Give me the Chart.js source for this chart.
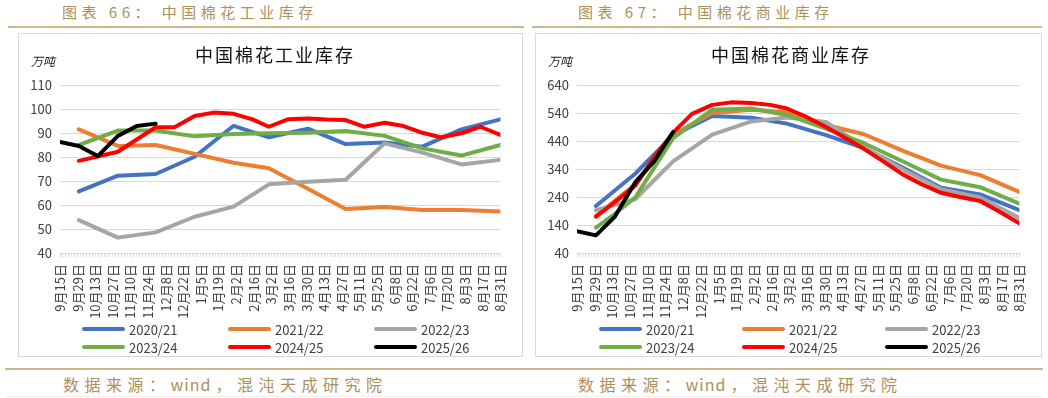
<!DOCTYPE html>
<html>
<head>
<meta charset="utf-8">
<script src="https://cdn.jsdelivr.net/npm/chart.js@4.4.1/dist/chart.umd.min.js"></script>
<style>
body { margin:0; width:1048px; height:398px; background:#fff; position:relative; overflow:hidden; font-family:"Noto Sans CJK SC", sans-serif; }
.fig-title { position:absolute; top:2px; font-size:15px; line-height:20px; color:#ad8f5b; letter-spacing:4.5px; white-space:nowrap; }
.rule { position:absolute; height:2px; background:#cdb88e; }
.box { position:absolute; top:33px; height:324px; border:1px solid #d9d9d9; box-sizing:border-box; }
.chart { position:absolute; top:33px; }
.ctitle { position:absolute; top:43px; font-size:18px; line-height:22px; letter-spacing:2px; color:#111; white-space:nowrap; transform:translateX(-50%); }
.unit { position:absolute; top:53px; font-size:12px; line-height:16px; color:#222; font-style:italic; }
.legend { position:absolute; top:320px; display:grid; grid-auto-rows:18px; }
.legend .item { display:flex; align-items:center; font-size:13px; color:#404040; }
.legend .swatch { width:43px; height:4px; border-radius:2px; margin-right:4px; }
.src { position:absolute; top:373px; font-size:16px; line-height:22px; color:#ad8f5b; letter-spacing:5.5px; white-space:nowrap; }
.src .lat { letter-spacing:1px; margin-right:4px; }
</style>
</head>
<body>

<div class="fig-title" style="left:62px">图表 66： 中国棉花工业库存</div>
<div class="fig-title" style="left:578px">图表 67： 中国棉花商业库存</div>
<div class="rule" style="left:8px;top:26px;width:516px"></div>
<div class="rule" style="left:532px;top:26px;width:510px"></div>

<div class="box" style="left:18px;width:505px"></div>
<div class="box" style="left:535px;width:507px"></div>

<canvas id="indChart" class="chart" style="left:18px" width="505" height="324"></canvas>
<canvas id="comChart" class="chart" style="left:535px" width="507" height="324"></canvas>

<div class="ctitle" style="left:275px">中国棉花工业库存</div>
<div class="ctitle" style="left:791px">中国棉花商业库存</div>
<div class="unit" style="left:31px">万吨</div>
<div class="unit" style="left:548px">万吨</div>

<div class="legend" id="indLegend" style="left:82px;grid-template-columns:146px 146px 146px"></div>
<div class="legend" id="comLegend" style="left:599px;grid-template-columns:143px 143px 143px"></div>

<div class="rule" style="left:5px;top:368px;width:1038px"></div>
<div class="src" style="left:63px">数据来源：<span class="lat">wind</span>，混沌天成研究院</div>
<div class="src" style="left:578px">数据来源：<span class="lat">wind</span>，混沌天成研究院</div>
<div class="rule" style="left:5px;top:396px;width:1038px;height:1px;background:#eeeeee"></div>

<script>
// season runs 9/15 -> 8/31, points are mid-month and month-end
var dates = ['9/15','9/30','10/15','10/31','11/15','11/30','12/15','12/31','1/15','1/31','2/15','2/28',
	'3/15','3/31','4/15','4/30','5/15','5/31','6/15','6/30','7/15','7/31','8/15','8/31'];

var tickLabels = ['9月15日','9月29日','10月13日','10月27日','11月10日','11月24日','12月8日','12月22日',
	'1月5日','1月19日','2月2日','2月16日','3月2日','3月16日','3月30日','4月13日','4月27日',
	'5月11日','5月25日','6月8日','6月22日','7月6日','7月20日','8月3日','8月17日','8月31日'];

var seasons = ['2020/21','2021/22','2022/23','2023/24','2024/25','2025/26'];
var colors = ['#4472C4','#ED7D31','#A5A5A5','#70AD47','#FF0000','#000000'];

// 工业库存 (万吨)
var ind2021 = [null,65.7,null,72.2,null,72.9,null,80.1,null,93.0,null,88.2,null,91.8,null,85.4,null,86.0,null,84.3,null,91.5,null,95.7];
var ind2122 = [null,91.5,null,84.6,null,85.0,null,81.3,null,77.6,null,75.3,null,66.8,null,58.3,null,59.2,null,57.9,null,57.9,null,57.3];
var ind2223 = [null,53.7,null,46.4,null,48.6,null,55.1,null,59.3,null,68.6,null,69.7,null,70.5,null,85.7,null,81.8,null,76.9,null,78.8];
var ind2324 = [null,85.0,null,91.0,null,91.0,null,88.6,null,89.6,null,89.9,null,90.1,null,90.8,null,88.8,null,83.6,null,80.6,null,85.0];
var ind2425 = [null,78.4,null,82.2,null,92.4,92.4,97.1,98.5,98.0,95.7,92.6,95.7,96.0,95.6,95.4,92.6,94.3,92.9,90.1,88.2,89.9,92.6,89.2];
var ind2526 = [86.3,84.6,80.4,88.8,92.9,93.9];

// 商业库存 (万吨)
var com2021 = [null,208,null,323,null,460,null,529,null,523,null,502,null,461,null,415,null,344,null,273,null,249,null,193];
var com2122 = [null,172,null,285,null,462,null,540,null,552,null,543,null,497,null,464,null,405,null,352,null,318,null,258];
var com2223 = [null,193,null,232,null,367,null,463,null,510,null,524,null,508,null,418,null,338,null,268,null,238,null,165];
var com2324 = [null,131,180,238,null,450,null,552,null,556,null,533,null,484,null,432,null,367,null,302,null,275,null,216];
var com2425 = [null,170,222,280,382,470,537,569,578,576,569,556,527,490,452,412,368,320,285,255,240,226,188,146];
var com2526 = [118,103,170,292,367,472];

// days since 9/15 of the season
function dayOf(md) {
	var p = md.split('/');
	var m = +p[0], d = +p[1];
	var y = m >= 9 ? 2021 : 2022;
	return Math.round((Date.UTC(y, m - 1, d) - Date.UTC(2021, 8, 15)) / 86400000);
}

function buildDatasets(seriesList) {
	return seriesList.map(function(values, i) {
		return {
			label: seasons[i],
			data: values.map(function(v, j) { return {x: dayOf(dates[j]), y: v}; }),
			borderColor: colors[i],
			backgroundColor: colors[i],
			borderWidth: 4,
			borderJoinStyle: 'round',
			borderCapStyle: 'round',
			pointRadius: 0,
			tension: 0,
			spanGaps: true,
			order: seriesList.length - 1 - i
		};
	});
}

function makeChart(canvasId, seriesList, yMin, yMax, yStep) {
	var fam = '"Noto Sans CJK SC", sans-serif';
	return new Chart(document.getElementById(canvasId), {
		type: 'line',
		data: {datasets: buildDatasets(seriesList)},
		options: {
			responsive: false,
			animation: false,
			layout: {padding: {left: 0, top: 52, right: 12, bottom: 0}},
			plugins: {legend: {display: false}, tooltip: {enabled: false}},
			scales: {
				x: {
					type: 'linear',
					min: 0,
					max: 350,
					afterBuildTicks: function(axis) {
						var t = [];
						for (var k = 0; k <= 150; k++) t.push({value: k * 14 / 6});
						axis.ticks = t;
					},
					afterFit: function(s) { s.height = 104; },
					ticks: {
						autoSkip: false,
						minRotation: 90,
						maxRotation: 90,
						padding: 7,
						color: '#404040',
						font: {family: fam, size: 13},
						callback: function(v, idx) { return idx % 6 === 0 ? tickLabels[idx / 6] : ''; }
					},
					grid: {drawOnChartArea: false, drawTicks: true, tickLength: 4, color: '#d9d9d9'},
					border: {color: '#d9d9d9'}
				},
				y: {
					min: yMin,
					max: yMax,
					afterFit: function(s) { s.width = 42; },
					ticks: {stepSize: yStep, padding: 8, color: '#404040', font: {family: fam, size: 13}},
					grid: {color: '#d9d9d9', drawTicks: false},
					border: {display: false}
				}
			}
		}
	});
}

function buildLegend(elId) {
	var el = document.getElementById(elId);
	seasons.forEach(function(s, i) {
		var item = document.createElement('div');
		item.className = 'item';
		var sw = document.createElement('span');
		sw.className = 'swatch';
		sw.style.background = colors[i];
		item.appendChild(sw);
		item.appendChild(document.createTextNode(s));
		el.appendChild(item);
	});
}

makeChart('indChart', [ind2021, ind2122, ind2223, ind2324, ind2425, ind2526], 40, 110, 10);
makeChart('comChart', [com2021, com2122, com2223, com2324, com2425, com2526], 40, 640, 100);
buildLegend('indLegend');
buildLegend('comLegend');
</script>
</body>
</html>
